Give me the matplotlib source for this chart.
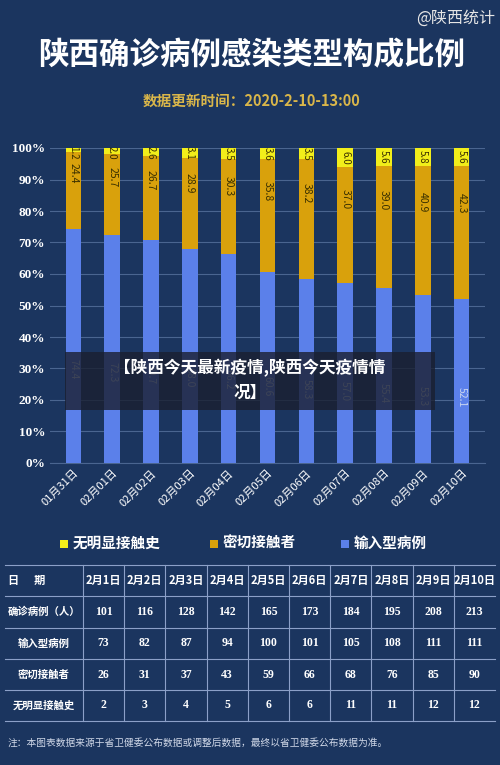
import matplotlib
matplotlib.use('Agg')
import matplotlib.pyplot as plt
import numpy as np

plt.rcParams['font.family'] = ['Noto Sans CJK SC', 'DejaVu Sans']

dates = ['01月31日', '02月01日', '02月02日', '02月03日', '02月04日', '02月05日',
         '02月06日', '02月07日', '02月08日', '02月09日', '02月10日']
no_contact = [1.2, 2.0, 2.6, 3.1, 3.5, 3.6, 3.5, 6.0, 5.6, 5.8, 5.6]
close_contact = [24.4, 25.7, 26.7, 28.9, 30.3, 35.8, 38.2, 37.0, 39.0, 40.9, 42.3]
imported = [74.4, 72.3, 70.7, 68.0, 66.2, 60.6, 58.3, 57.0, 55.4, 53.3, 52.1]

tbl_dates = ['2月1日', '2月2日', '2月3日', '2月4日', '2月5日', '2月6日', '2月7日', '2月8日', '2月9日', '2月10日']
tbl_rows = ['确诊病例（人）', '输入型病例', '密切接触者', '无明显接触史']
tbl_confirmed = [101, 116, 128, 142, 165, 173, 184, 195, 208, 213]
tbl_imported = [73, 82, 87, 94, 100, 101, 105, 108, 111, 111]
tbl_close = [26, 31, 37, 43, 59, 66, 68, 76, 85, 90]
tbl_none = [2, 3, 4, 5, 6, 6, 11, 11, 12, 12]

BG = '#1b355f'
YEL, ORA, BLU = '#f2ee1a', '#d9a10c', '#5b80ea'
W, H = 500, 765

fig = plt.figure(figsize=(5, 7.65), dpi=100, facecolor=BG)

def fx(px): return px / W
def fy(py): return 1 - py / H

fig.text(fx(495), fy(18), '@陕西统计', color='#e6e6e6', fontsize=11.5, ha='right', va='center')
fig.text(fx(252), fy(55), '陕西确诊病例感染类型构成比例', color='white', fontsize=22,
         fontweight='bold', ha='center', va='center')
fig.text(fx(252), fy(101), '数据更新时间：2020-2-10-13:00', color='#d9b64a', fontsize=10.5,
         fontweight='bold', ha='center', va='center')

ax = fig.add_axes([fx(50), fy(463), fx(485) - fx(50), fy(148) - fy(463)])
ax.set_facecolor(BG)
x = np.arange(len(dates))
bw = 0.4
ax.bar(x, imported, bw, color=BLU, zorder=3)
ax.bar(x, close_contact, bw, bottom=imported, color=ORA, zorder=3)
bot2 = np.array(imported) + np.array(close_contact)
ax.bar(x, no_contact, bw, bottom=bot2, color=YEL, zorder=3)
for i in range(len(x)):
    ax.text(x[i], imported[i] * 0.4, f'{imported[i]:.1f}', rotation=270, ha='center', va='center',
            fontsize=7.5, color='#c8d4f0', zorder=4)
    ax.text(x[i], imported[i] + close_contact[i] * 0.72, f'{close_contact[i]:.1f}', rotation=270,
            ha='center', va='center', fontsize=7.5, color='#3a3000', zorder=4)
    ax.text(x[i], 100 - no_contact[i] / 2 if no_contact[i] > 3 else 98.5, f'{no_contact[i]:.1f}',
            rotation=270, ha='center', va='center', fontsize=7, color='#3a3000', zorder=4)
ax.set_ylim(0, 100)
ax.set_xlim(-0.6, len(x) - 0.4)
ax.set_yticks(range(0, 101, 10))
ax.set_yticklabels([f'{v}%' for v in range(0, 101, 10)], color='white', fontsize=9.5,
                   fontweight='bold', family='Liberation Serif')
ax.set_xticks(x)
ax.set_xticklabels(dates, rotation=45, ha='right', rotation_mode='anchor', color='white', fontsize=8)
ax.tick_params(length=0)
ax.grid(axis='y', color='#4a6590', lw=0.8, zorder=0)
for s in ax.spines.values():
    s.set_visible(False)
ax.spines['bottom'].set_visible(True)
ax.spines['bottom'].set_color('#4a6590')

# overlay banner
fig.patches.append(plt.Rectangle((fx(65), fy(410)), fx(370), fy(352) - fy(410), transform=fig.transFigure,
                                 facecolor='#1a1f30', alpha=0.8, zorder=5))
fig.text(fx(250), fy(368), '【陕西今天最新疫情,陕西今天疫情情', color='white', fontsize=12,
         fontweight='bold', ha='center', va='center', zorder=6)
fig.text(fx(250), fy(393), '况】', color='white', fontsize=12, fontweight='bold',
         ha='center', va='center', zorder=6)

# legend
for lx, col, lab in [(65, YEL, '无明显接触史'), (215, ORA, '密切接触者'), (346, BLU, '输入型病例')]:
    fig.patches.append(plt.Rectangle((fx(lx - 5), fy(548)), fx(8), fy(540) - fy(548),
                                     transform=fig.transFigure, facecolor=col))
    fig.text(fx(lx + 8), fy(543), lab, color='white', fontsize=10.5, fontweight='bold', va='center')

# table
col_edges = [5, 83] + [83 + 41.2 * (k + 1) for k in range(10)]
row_edges = [565, 596, 628, 659, 690, 721]
for yy in row_edges:
    fig.add_artist(plt.Line2D([fx(5), fx(495)], [fy(yy), fy(yy)], color='#8ca0c8', lw=0.8))
for xx in col_edges[1:-1]:
    fig.add_artist(plt.Line2D([fx(xx), fx(xx)], [fy(565), fy(721)], color='#8ca0c8', lw=0.8))
rc = [(row_edges[k] + row_edges[k + 1]) / 2 for k in range(5)]
fig.text(fx(8), fy(rc[0]), '日      期', color='white', fontsize=8, fontweight='bold', va='center')
for k, d in enumerate(tbl_dates):
    cx = (col_edges[k + 1] + col_edges[k + 2]) / 2
    fig.text(fx(cx), fy(rc[0]), d, color='white', fontsize=8, fontweight='bold', ha='center', va='center')
for r, (name, vals) in enumerate(zip(tbl_rows, [tbl_confirmed, tbl_imported, tbl_close, tbl_none])):
    fig.text(fx(44), fy(rc[r + 1]), name, color='white', fontsize=7.5, fontweight='bold',
             ha='center', va='center')
    for k, v in enumerate(vals):
        cx = (col_edges[k + 1] + col_edges[k + 2]) / 2
        fig.text(fx(cx), fy(rc[r + 1]), str(v), color='white', fontsize=8.5, fontweight='bold',
                 ha='center', va='center', family='Liberation Serif')

fig.text(fx(8), fy(743), '注：本图表数据来源于省卫健委公布数据或调整后数据，最终以省卫健委公布数据为准。',
         color='#d0d8e8', fontsize=7, va='center')

fig.savefig('out.png', dpi=100, facecolor=BG)
